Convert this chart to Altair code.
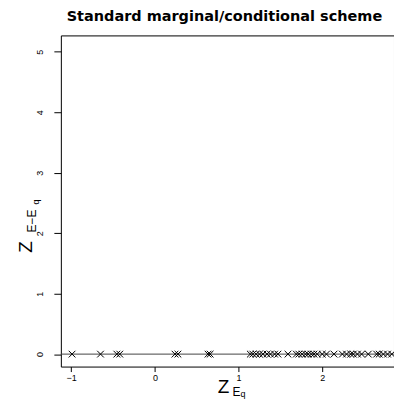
import altair as alt
import pandas as pd

# ---- data ----
x_values = [-0.99, -0.65, -0.455, -0.42, 0.24, 0.275, 0.635, 0.66,
            1.14, 1.17, 1.21, 1.25, 1.29, 1.34, 1.38, 1.43, 1.47, 1.59,
            1.69, 1.72, 1.76, 1.80, 1.83, 1.87, 1.90, 1.94, 2.00, 2.05,
            2.14, 2.24, 2.29, 2.34, 2.37, 2.42, 2.47, 2.55, 2.65, 2.68,
            2.73, 2.78, 2.83]
y_values = [0.0] * len(x_values)
x_ticks = [-1, 0, 1, 2]
y_ticks = [0, 1, 2, 3, 4, 5]
ref_line = [0.0]
title_text = "Standard marginal/conditional scheme"

FONT = "Liberation Sans"

df = pd.DataFrame({"x": x_values, "y": y_values})

xs = alt.Scale(domain=[-1.124, 2.857], nice=False, zero=False)
ys = alt.Scale(domain=[-0.206, 5.27], nice=False, zero=False)

points = alt.Chart(df).mark_point(
    shape="M-1,-1L1,1M1,-1L-1,1", filled=False, stroke="black",
    strokeWidth=1, size=45, opacity=1
).encode(
    x=alt.X("x:Q", scale=xs, axis=alt.Axis(
        values=x_ticks, title=None, grid=False, domain=False, tickSize=5,
        tickColor="black", labelFontSize=9, labelPadding=2, labelColor="black",
        labelFont=FONT, format="d")),
    y=alt.Y("y:Q", scale=ys, axis=alt.Axis(
        values=y_ticks, title=None, grid=False, domain=False, tickSize=7,
        tickColor="black", labelFontSize=9, labelAngle=270, labelAlign="center",
        labelBaseline="middle", labelPadding=14, labelColor="black",
        labelFont=FONT, format="d")),
)

hline = alt.Chart(pd.DataFrame({"y": ref_line})).mark_rule(
    color="#444444", strokeWidth=1
).encode(y=alt.Y("y:Q", scale=ys))


def txt(s, x, y, size, angle=0, align="center"):
    return alt.Chart(pd.DataFrame({"t": [s]})).mark_text(
        font=FONT, fontSize=size, color="black", angle=angle,
        align=align, baseline="alphabetic"
    ).encode(text="t:N", x=alt.value(x), y=alt.value(y))


# axis titles with sub/sub-subscripts (positions relative to plot origin)
xt = [
    txt("Z", 163, 358, 19),
    txt("E", 172, 361, 12, align="left"),
    txt("q", 180, 363, 9, align="left"),
]
yt = [
    txt("Z", -29, 212, 19, angle=270),
    txt("E\u2212E", -25, 186, 12, angle=270),
    txt("q", -22, 167, 9, angle=270),
]

chart = alt.layer(hline, points, *xt, *yt).properties(
    width=334, height=332,
    autosize=alt.AutoSizeParams(type="none"),
    padding={"left": 61, "top": 35, "right": 0, "bottom": 32},
    title=alt.TitleParams(title_text, font="DejaVu Sans", fontSize=14.5,
                          fontWeight="bold", anchor="middle", color="black",
                          offset=11, dx=-3),
).configure_view(stroke="black", strokeWidth=1)

chart.save("out.html", embed_options={"renderer": "svg", "actions": False})
